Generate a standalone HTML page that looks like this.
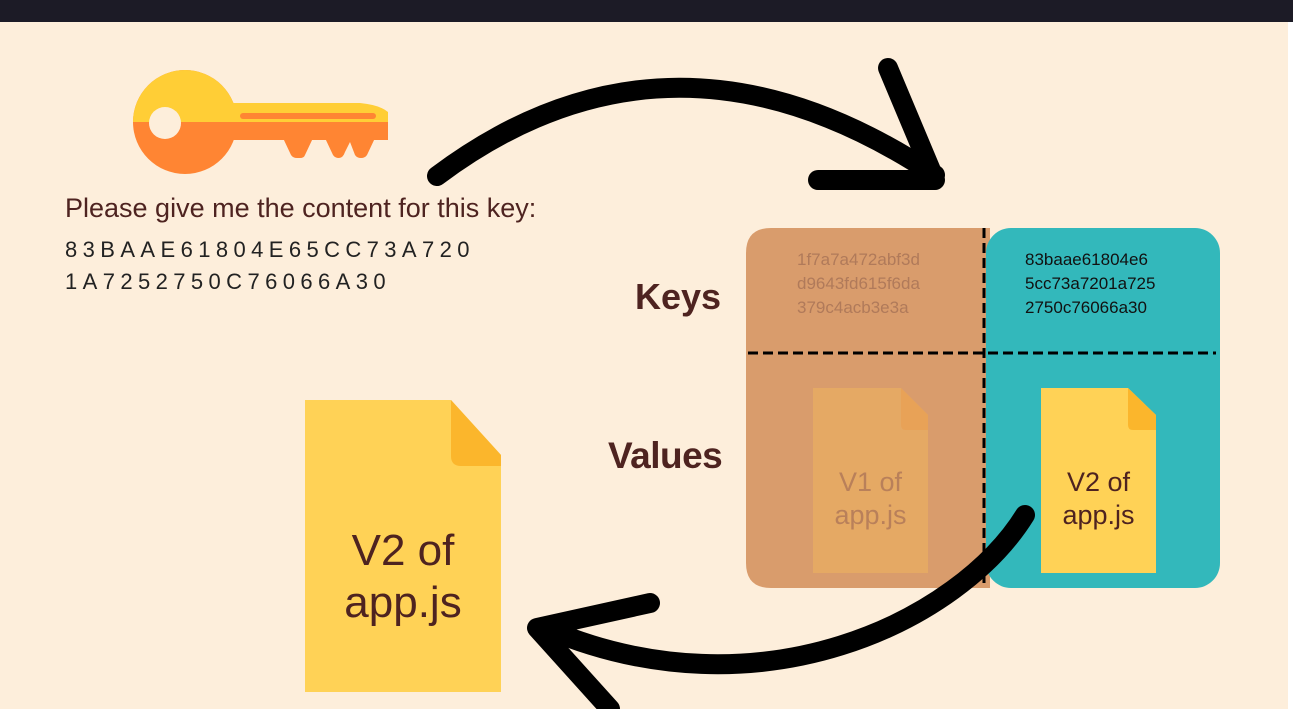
<!DOCTYPE html>
<html><head><style>
body{margin:0;width:1293px;height:709px;overflow:hidden;background:#fdeedb;position:relative;font-family:"Liberation Sans",sans-serif}
.t{position:absolute;color:#4e2320;white-space:nowrap}
</style></head><body>
<div style="position:absolute;left:0;top:0;width:1293px;height:22px;background:#1c1b26"></div>
<div style="position:absolute;left:1288px;top:22px;width:5px;height:687px;background:#fff"></div>
<svg width="1293" height="709" style="position:absolute;left:0;top:0">
<defs><clipPath id="top"><rect x="0" y="0" width="1293" height="122"/></clipPath></defs>
<g>
<circle cx="185" cy="122" r="52" fill="#ff8533"/>
<path d="M225 122 L225 140 L388 140 L388 122 Z" fill="#ff8533"/>
<path d="M283 138 L291 155 Q293 158 297 158 L300 158 Q304 158 305 155 L313 138 Z M325 138 L333 155 Q335 158 339 158 Q343 158 345 152 L350 142 L355 155 Q357 158 361 158 Q365 158 367 155 L375 138 Z" fill="#ff8533"/>
<circle cx="185" cy="122" r="52" fill="#ffce36" clip-path="url(#top)"/>
<path d="M225 103 L360 103 Q380 105 388 112 L388 122 L225 122 Z" fill="#ffce36"/>
<rect x="240" y="113" width="136" height="6" rx="3" fill="#ff8533"/>
<circle cx="165" cy="123" r="16" fill="#fdeedb"/>
</g>
<path d="M771 228 H990 V588 H771 Q746 588 746 563 V253 Q746 228 771 228 Z" fill="#d99c6c"/>
<rect x="986" y="228" width="234" height="360" rx="25" fill="#33b8bb"/>
<line x1="984" y1="228" x2="984" y2="588" stroke="#000" stroke-width="3" stroke-dasharray="10,5"/>
<line x1="748" y1="353" x2="1216" y2="353" stroke="#000" stroke-width="3" stroke-dasharray="10,5"/>
<path d="M813 388 H901 L928 415 V573 H813 Z" fill="#e5a964"/>
<path d="M901 388 L928 415 V430 H906 Q901 430 901 425 Z" fill="#e8a257"/>
<path d="M1041 388 H1128 L1156 415 V573 H1041 Z" fill="#ffd256"/>
<path d="M1128 388 L1156 415 V430 H1133 Q1128 430 1128 425 Z" fill="#fbb62c"/>
<path d="M305 400 H451 L501 455 V692 H305 Z" fill="#ffd256"/>
<path d="M451 400 L501 455 V466 H461 Q451 466 451 456 Z" fill="#fbb62c"/>
<g fill="none" stroke="#000" stroke-width="20" stroke-linecap="round" stroke-linejoin="round">
<path d="M437 176 Q672 0 935 175"/>
<path d="M888 68 L935 180 L818 180"/>
<path d="M1025 515 C960 620 760 720 545 628"/>
<path d="M650 603 L537 628 L610 709"/>
</g>
</svg>
<div class="t" style="left:65px;top:193px;font-size:27px">Please give me the content for this key:</div>
<div class="t" style="left:65px;top:237px;font-size:22px;letter-spacing:5.4px;color:#222">83BAAE61804E65CC73A720</div>
<div class="t" style="left:65px;top:269px;font-size:22px;letter-spacing:5.4px;color:#222">1A7252750C76066A30</div>
<div class="t" style="left:635px;top:276px;font-size:36px;font-weight:bold">Keys</div>
<div class="t" style="left:608px;top:435px;font-size:37px;font-weight:bold;letter-spacing:-0.5px">Values</div>
<div class="t" style="left:797px;top:248px;font-size:17px;line-height:24px;color:#b07a5a">1f7a7a472abf3d<br>d9643fd615f6da<br>379c4acb3e3a</div>
<div class="t" style="left:1025px;top:248px;font-size:17px;line-height:24px;color:#111">83baae61804e6<br>5cc73a7201a725<br>2750c76066a30</div>
<div class="t" style="left:813px;top:466px;width:115px;text-align:center;font-size:27px;line-height:33px;color:#b9805a">V1 of<br>app.js</div>
<div class="t" style="left:1041px;top:466px;width:115px;text-align:center;font-size:27px;line-height:33px">V2 of<br>app.js</div>
<div class="t" style="left:305px;top:525px;width:196px;text-align:center;font-size:44px;line-height:52px">V2 of<br>app.js</div>
</body></html>
